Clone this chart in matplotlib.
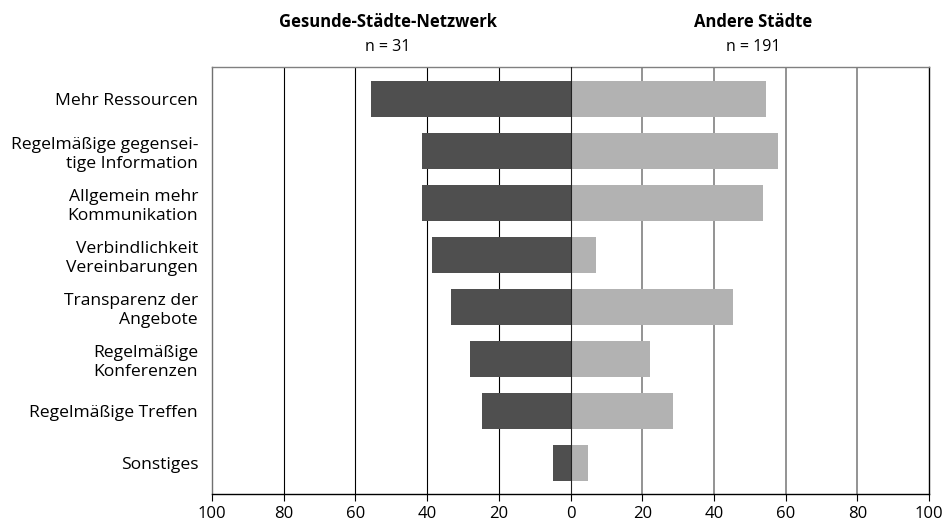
import matplotlib.pyplot as plt
import numpy as np

plt.rcParams['font.family'] = ['Open Sans', 'DejaVu Sans']

# Kategorien (von oben nach unten)
categories = ['Mehr Ressourcen',
              'Regelmäßige gegensei-\ntige Information',
              'Allgemein mehr\nKommunikation',
              'Verbindlichkeit\nVereinbarungen',
              'Transparenz der\nAngebote',
              'Regelmäßige\nKonferenzen',
              'Regelmäßige Treffen',
              'Sonstiges']
# Anteile in %
gesund = [55.7, 41.5, 41.5, 38.7, 33.4, 27.9, 24.8, 5.0]
andere = [54.6, 57.9, 53.8, 7.2, 45.4, 22.3, 28.7, 5.0]
group_titles = ['Gesunde-Städte-Netzwerk', 'Andere Städte']
group_n = ['n = 31', 'n = 191']
xticks = [-100, -80, -60, -40, -20, 0, 20, 40, 60, 80, 100]

fig = plt.figure(figsize=(9.5, 5.26), dpi=100)
ax = fig.add_axes([212 / 950, 32 / 526, 717 / 950, 427 / 526])

y = np.arange(len(categories))
ax.barh(y, -np.array(gesund), height=0.7, color='#4f4f4f', zorder=2)
ax.barh(y, andere, height=0.7, color='#b2b2b2', zorder=2)

# Gitterlinien: links schwarz, rechts grau
for xv in xticks[1:-1]:
    if xv < 0:
        ax.axvline(xv, color='black', lw=0.8, zorder=1)
    elif xv > 0:
        ax.axvline(xv, color='#808080', lw=1.2, zorder=1)
ax.axvline(0, color='#222222', lw=0.8, zorder=3)

ax.set_xlim(-100, 100)
ax.set_ylim(7.6, -0.62)
ax.set_xticks(xticks)
ax.set_xticklabels([str(abs(v)) for v in xticks], fontsize=12)
ax.tick_params(axis='x', length=5, width=0.8, pad=4)
ax.set_yticks(y)
ax.set_yticklabels(categories, fontsize=12.6, ha='right', multialignment='right',
                   linespacing=1.22)
ax.tick_params(axis='y', length=0, pad=10)

ax.spines['top'].set_color('#808080')
ax.spines['left'].set_color('#707070')
ax.spines['right'].set_color('black')
ax.spines['bottom'].set_color('black')
for s in ax.spines.values():
    s.set_linewidth(1.0)

trans = ax.get_xaxis_transform()
for xc, t, n in zip([-51, 51], group_titles, group_n):
    ax.text(xc, 1.105, t, transform=trans, ha='center', va='center',
            fontsize=12, fontweight='bold')
    ax.text(xc, 1.047, n, transform=trans, ha='center', va='center', fontsize=11.5)

plt.savefig('out.png', dpi=100)
